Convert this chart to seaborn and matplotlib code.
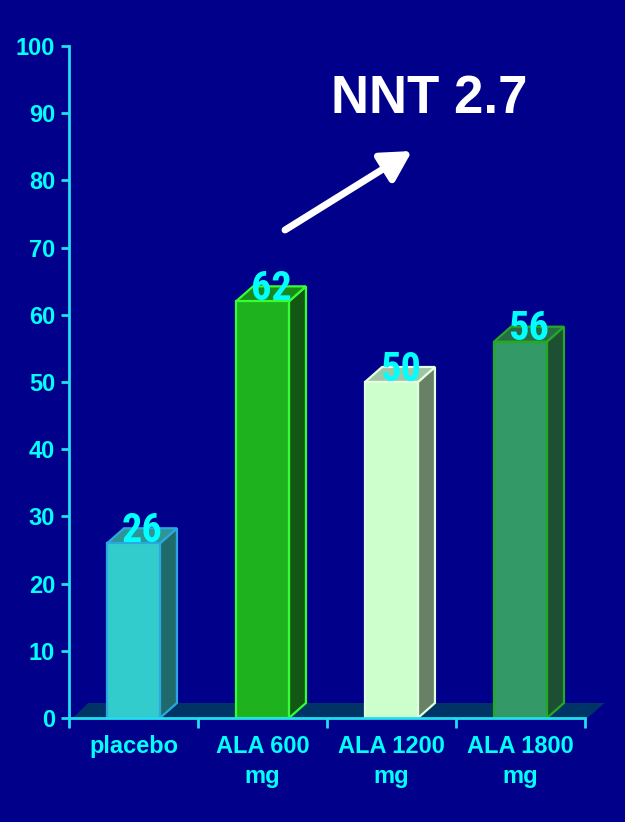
import matplotlib
matplotlib.use("Agg")
import matplotlib.pyplot as plt
from matplotlib import font_manager
from matplotlib.patches import Polygon
import seaborn as sns
import pandas as pd

categories = ["placebo", "ALA 600\nmg", "ALA 1200\nmg", "ALA 1800\nmg"]
values = [26, 62, 50, 56]
front_colors = ["#33CCCC", "#1EB31E", "#CCFFCC", "#339966"]
side_colors = ["#1F6B6B", "#125812", "#678066", "#1D4F33"]
top_colors = ["#2E9494", "#1A8A1A", "#A3C4A3", "#2A6B47"]
edge_colors = ["#2AA8E0", "#33FF33", "#E0FFE0", "#22AA22"]
yticks = list(range(0, 101, 10))
annotation_text = "NNT 2.7"

BG = "#00008B"
CYAN = "#00FFFF"
AXC = "#22DDEE"

def pick(fams, fallback="Liberation Sans"):
    for fam in fams:
        try:
            font_manager.findfont(fam, fallback_to_default=False)
            return fam
        except Exception:
            pass
    return fallback

narrow = pick(["Liberation Sans Narrow", "Roboto Condensed"])
plt.rcParams["font.family"] = ["Liberation Sans", "DejaVu Sans"]

W, H = 625, 822
fig = plt.figure(figsize=(W / 100, H / 100), dpi=100, facecolor=BG)
ax = fig.add_axes([69 / W, 1 - 718 / H, (585 - 69) / W, (718 - 46) / H])
ax.set_facecolor(BG)

df = pd.DataFrame({"cat": categories, "val": values})
sns.barplot(data=df, x="cat", y="val", hue="cat", palette=front_colors,
            dodge=False, legend=False, width=0.41, ax=ax, zorder=3,
            linewidth=1.6, saturation=1)

ax.set_xlim(-0.5, 3.5)
ax.set_ylim(0, 100)

# depth offsets (data units)
dx = 17 / 129
dy = 15 / 6.72

# floor slab
floor = Polygon([(-0.5 + 0.03, 0), (3.5 + 0.02, 0), (3.5 + 0.02 + dx, dy), (-0.5 + 0.03 + dx * 0.9, dy)],
                closed=True, facecolor="#003366", edgecolor="none", zorder=1,
                clip_on=False)
ax.add_patch(floor)

label_font = [narrow, "DejaVu Sans"]
label_size = 29 if narrow != "Liberation Sans" else 24

for i, p in enumerate(ax.patches[: len(values)]):
    x0 = p.get_x()
    w = p.get_width()
    h = p.get_height()
    x1 = x0 + w
    p.set_edgecolor(edge_colors[i])
    p.set_linewidth(1.6)
    side = Polygon([(x1, 0), (x1 + dx, dy), (x1 + dx, h + dy), (x1, h)],
                   closed=True, facecolor=side_colors[i],
                   edgecolor=edge_colors[i], linewidth=1.6, zorder=2.5)
    top = Polygon([(x0, h), (x1, h), (x1 + dx, h + dy), (x0 + dx, h + dy)],
                  closed=True, facecolor=top_colors[i],
                  edgecolor=edge_colors[i], linewidth=1.6, zorder=2.5)
    ax.add_patch(side)
    ax.add_patch(top)
    ax.text(x0 + w / 2 + dx * 0.5, h - 1.0, str(values[i]), ha="center", va="bottom",
            color=CYAN, fontsize=label_size, fontweight="bold", family=label_font,
            zorder=5)

# axes styling
for s in ["top", "right"]:
    ax.spines[s].set_visible(False)
for s in ["left", "bottom"]:
    ax.spines[s].set_color(AXC)
    ax.spines[s].set_linewidth(2)
    ax.spines[s].set_zorder(4)

ax.set_yticks(yticks)
ax.set_yticklabels([str(t) for t in yticks])
ax.tick_params(axis="y", colors=AXC, length=6, width=2, pad=4, labelsize=17,
               labelcolor=CYAN)
for lab in ax.get_yticklabels():
    lab.set_fontweight("bold")

ax.set_xticks(range(len(categories)))
ax.set_xticklabels(categories, fontsize=17, fontweight="bold", color=CYAN,
                   linespacing=1.4)
ax.tick_params(axis="x", which="major", length=0, pad=12)
ax.set_xticks([-0.5 + k for k in range(len(categories) + 1)], minor=True)
ax.tick_params(axis="x", which="minor", length=7, width=2, color=AXC, direction="out")
ax.set_xlabel("")
ax.set_ylabel("")

# annotation
fig.text(429 / W, 1 - 99 / H, annotation_text, ha="center", va="center",
         color="white", fontsize=38, fontweight="bold")
ax.annotate("", xy=(412 / W, 1 - 151 / H), xycoords="figure fraction",
            xytext=(285 / W, 1 - 230 / H), textcoords="figure fraction",
            arrowprops=dict(arrowstyle="-|>,head_length=0.9,head_width=0.5",
                            lw=5, color="white", mutation_scale=20,
                            shrinkA=0, shrinkB=0))

fig.savefig("out.png", dpi=100, facecolor=BG)
